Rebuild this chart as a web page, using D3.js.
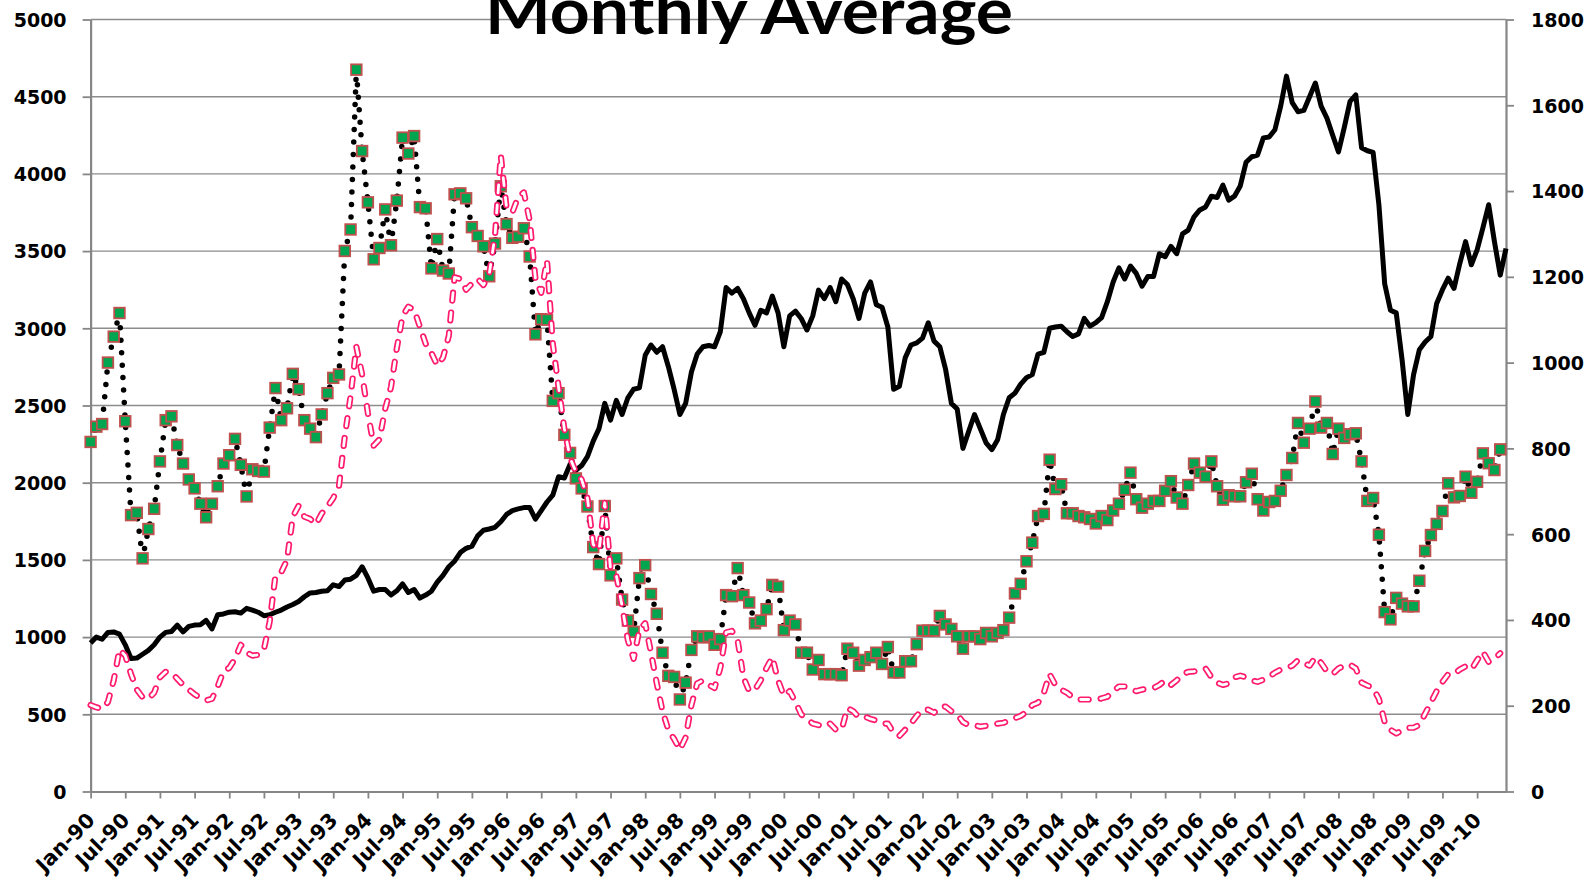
<!DOCTYPE html>
<html>
<head>
<meta charset="utf-8">
<script src="https://cdn.jsdelivr.net/npm/d3@7"></script>
<style>
  body { margin: 0; background: #fff; }
  svg { display: block; }
</style>
</head>
<body>
<script>
// months Jan-90 .. Jun-10
var months = d3.timeMonth.range(new Date(1990, 0, 1), new Date(2010, 6, 1));

var leftTicks = [0, 500, 1000, 1500, 2000, 2500, 3000, 3500, 4000, 4500, 5000];
var rightTicks = [0, 200, 400, 600, 800, 1000, 1200, 1400, 1600, 1800];
var xTickLabels = ["Jan-90","Jul-90","Jan-91","Jul-91","Jan-92","Jul-92","Jan-93","Jul-93",
  "Jan-94","Jul-94","Jan-95","Jul-95","Jan-96","Jul-96","Jan-97","Jul-97","Jan-98","Jul-98",
  "Jan-99","Jul-99","Jan-00","Jul-00","Jan-01","Jul-01","Jan-02","Jul-02","Jan-03","Jul-03",
  "Jan-04","Jul-04","Jan-05","Jul-05","Jan-06","Jul-06","Jan-07","Jul-07","Jan-08","Jul-08",
  "Jan-09","Jul-09","Jan-10"];

// green squares, dotted line (left axis)
var greenVals = [2264,2363,2380,2778,2946,3099,2398,1790,1805,1510,
  1700,1831,2138,2405,2430,2244,2124,2021,1963,1864,
  1776,1864,1977,2124,2178,2284,2116,1911,2087,2076,
  2072,2357,2613,2405,2482,2705,2606,2405,2350,2295,
  2442,2580,2679,2701,3501,3640,4675,4148,3816,3447,
  3520,3770,3538,3827,4235,4132,4245,3785,3777,3388,
  3578,3374,3355,3868,3874,3842,3655,3598,3531,3337,
  3549,3920,3675,3586,3593,3648,3465,2961,3059,3056,
  2530,2580,2310,2193,2028,1963,1846,1583,1473,1849,
  1400,1510,1243,1107,1034,1382,1466,1279,1151,899,
  749,742,596,705,917,1005,998,1005,950,987,
  1272,1265,1447,1272,1224,1089,1107,1181,1338,1327,
  1045,1107,1082,899,899,790,852,760,760,760,
  753,925,899,815,852,870,899,826,936,771,
  771,844,844,954,1042,1042,1042,1137,1082,1053,
  1005,925,1005,1005,987,1027,1005,1027,1045,1126,
  1283,1345,1491,1612,1784,1798,2149,1959,1990,1802,
  1802,1784,1776,1765,1736,1784,1758,1820,1864,1955,
  2065,1893,1838,1864,1882,1882,1948,2010,1904,1864,
  1985,2124,2065,2039,2138,1977,1890,1919,1912,1912,
  2003,2058,1893,1820,1875,1882,1948,2050,2160,2387,
  2259,2350,2526,2357,2387,2186,2350,2290,2314,2320,
  2138,1882,1901,1663,1162,1115,1254,1217,1199,1199,
  1365,1558,1661,1733,1817,1996,1905,1914,2039,1935,
  2006,2190,2126,2082,2216];

// pink dashed line (left axis)
var pinkVals = [560,545,535,580,720,920,880,760,660,610,
  600,640,740,775,770,730,690,660,630,605,
  590,600,680,780,800,860,950,900,880,885,
  920,1100,1400,1420,1500,1780,1850,1780,1765,1730,
  1800,1845,1900,1980,2300,2560,2880,2700,2450,2240,
  2280,2480,2620,2870,3080,3140,3120,3010,2900,2840,
  2760,2810,2950,3330,3320,3250,3290,3320,3280,3350,
  3600,4120,3780,3750,3850,3880,3700,3320,3230,3440,
  2900,2620,2350,2160,2070,2020,1900,1600,1560,1870,
  1440,1400,1200,980,860,1050,1090,900,700,520,
  400,340,270,350,560,700,720,690,670,800,
  1030,1040,980,740,650,660,720,800,870,720,
  620,650,580,500,470,440,430,420,440,400,
  400,540,520,480,485,470,460,440,440,380,
  360,400,440,490,530,530,510,545,550,520,
  500,450,430,430,420,425,430,440,445,460,
  475,490,515,560,575,640,760,690,660,640,
  610,596,596,596,596,603,614,650,680,680,
  665,650,660,665,670,690,720,690,720,760,
  775,778,785,797,740,705,690,700,740,750,
  740,720,710,724,742,770,790,800,815,850,
  833,815,870,833,778,760,797,815,822,797,
  705,687,669,600,450,400,376,395,413,413,
  431,504,577,650,710,760,760,790,810,790,
  850,905,840,860,895];

// black solid line (right axis)
var blackVals = [346,360,355,371,372,367,342,310,311,320,
  329,342,360,371,373,388,372,385,388,389,
  399,379,412,414,418,419,416,427,423,418,
  410,412,418,423,430,436,443,454,463,464,
  467,468,482,478,493,495,504,524,498,467,
  471,471,458,468,484,464,471,451,458,467,
  488,504,524,537,557,567,572,596,609,612,
  616,629,646,655,659,662,662,635,655,675,
  691,734,731,763,749,760,781,817,846,905,
  866,912,879,918,938,941,1017,1041,1024,1037,
  991,938,879,905,978,1020,1037,1040,1037,1072,
  1175,1162,1173,1149,1116,1087,1122,1116,1155,1116,
  1037,1109,1120,1103,1076,1109,1169,1149,1175,1142,
  1195,1182,1149,1103,1162,1188,1135,1129,1083,938,
  945,1011,1041,1046,1057,1093,1050,1037,984,905,
  892,800,840,879,846,813,797,820,879,918,
  929,950,965,972,1020,1024,1080,1083,1085,1072,
  1061,1067,1103,1085,1093,1105,1142,1188,1221,1195,
  1225,1208,1178,1201,1201,1254,1247,1271,1254,1300,
  1309,1340,1356,1363,1388,1385,1414,1379,1388,1412,
  1467,1480,1484,1524,1526,1543,1598,1668,1606,1585,
  1588,1620,1652,1598,1570,1530,1491,1548,1609,1624,
  1501,1494,1490,1368,1184,1122,1116,1008,879,972,
  1030,1048,1061,1138,1170,1197,1173,1231,1282,1228,
  1263,1314,1368,1282,1204,1266];

var width = 1596, height = 884;
var plotLeft = 90.6, plotRight = 1506, plotTop = 19.5, plotBottom = 791.5;
var axisGrey = "#868686";
var tickFont = "'DejaVu Sans', Verdana, sans-serif";

var svg = d3.select("body").append("svg")
    .attr("width", width)
    .attr("height", height);

var x = d3.scaleLinear().domain([0, months.length - 1]).range([plotLeft, plotRight]);
var yL = d3.scaleLinear().domain([0, 5000]).range([plotBottom, plotTop]);
var yR = d3.scaleLinear().domain([0, 1800]).range([plotBottom, plotTop]);

// gridlines
svg.append("g")
  .selectAll("line")
  .data(leftTicks.slice(1))
  .join("line")
    .attr("x1", plotLeft)
    .attr("x2", plotRight)
    .attr("y1", d => yL(d))
    .attr("y2", d => yL(d))
    .attr("stroke", "#8c8c8c")
    .attr("stroke-width", 1.4);

// axes
var gLeft = svg.append("g")
    .attr("transform", "translate(" + plotLeft + ",0)")
    .call(d3.axisLeft(yL).tickValues(leftTicks).tickSize(8).tickSizeOuter(0).tickPadding(16)
      .tickFormat(d3.format("d")));

var gRight = svg.append("g")
    .attr("transform", "translate(" + plotRight + ",0)")
    .call(d3.axisRight(yR).tickValues(rightTicks).tickSize(8).tickSizeOuter(0).tickPadding(17)
      .tickFormat(d3.format("d")));

var gBottom = svg.append("g")
    .attr("transform", "translate(0," + plotBottom + ")")
    .call(d3.axisBottom(x).tickValues(d3.range(0, months.length, 6)).tickSize(7).tickSizeOuter(0)
      .tickFormat((d, i) => xTickLabels[i]));

gBottom.selectAll(".tick text")
    .attr("x", 0)
    .attr("y", 0)
    .style("text-anchor", "end")
    .attr("transform", "translate(5,30) rotate(-45)");

[gLeft, gRight, gBottom].forEach(function (g) {
  g.select(".domain").attr("stroke", axisGrey).attr("stroke-width", 2.2);
  g.selectAll(".tick line").attr("stroke", axisGrey).attr("stroke-width", 1.8);
  g.selectAll(".tick text")
    .attr("dy", g === gBottom ? 0 : "0.36em")
    .attr("fill", "#000")
    .style("font-family", tickFont)
    .style("font-weight", "bold")
    .style("font-size", g === gBottom ? "20.5px" : "19px");
});

// black solid series
var blackLine = d3.line()
    .x((d, i) => x(i))
    .y(d => yR(d));

svg.append("path")
    .datum(blackVals)
    .attr("d", blackLine)
    .attr("fill", "none")
    .attr("stroke", "#000")
    .attr("stroke-width", 5)
    .attr("stroke-linejoin", "round");

// green series: dotted connector + square markers
var leftLine = d3.line()
    .x((d, i) => x(i))
    .y(d => yL(d));

svg.append("path")
    .datum(greenVals)
    .attr("d", leftLine)
    .attr("fill", "none")
    .attr("stroke", "#000")
    .attr("stroke-width", 5.5)
    .attr("stroke-linecap", "round")
    .attr("stroke-dasharray", "0,12.5");

svg.append("g")
  .selectAll("rect")
  .data(greenVals)
  .join("rect")
    .attr("x", (d, i) => x(i) - 5.3)
    .attr("y", d => yL(d) - 5.3)
    .attr("width", 10.6)
    .attr("height", 10.6)
    .attr("fill", "#00a550")
    .attr("stroke", "#c0504d")
    .attr("stroke-width", 1.8);

// pink hollow dashed series
svg.append("path")
    .datum(pinkVals)
    .attr("d", leftLine)
    .attr("fill", "none")
    .attr("stroke", "#ff1a6e")
    .attr("stroke-width", 6.2)
    .attr("stroke-linecap", "round")
    .attr("stroke-linejoin", "round")
    .attr("stroke-dasharray", "8,12");

svg.append("path")
    .datum(pinkVals)
    .attr("d", leftLine)
    .attr("fill", "none")
    .attr("stroke", "#fff")
    .attr("stroke-width", 2.8)
    .attr("stroke-linecap", "round")
    .attr("stroke-linejoin", "round")
    .attr("stroke-dasharray", "8,12");

// title (cut off at top, as in the original)
svg.append("text")
    .attr("x", 749)
    .attr("y", 34)
    .attr("text-anchor", "middle")
    .attr("textLength", 528)
    .attr("lengthAdjust", "spacingAndGlyphs")
    .style("font-family", "Lato, 'Open Sans', sans-serif")
    .style("font-weight", "bold")
    .style("font-size", "64px")
    .text("Monthly Average");
</script>
</body>
</html>
